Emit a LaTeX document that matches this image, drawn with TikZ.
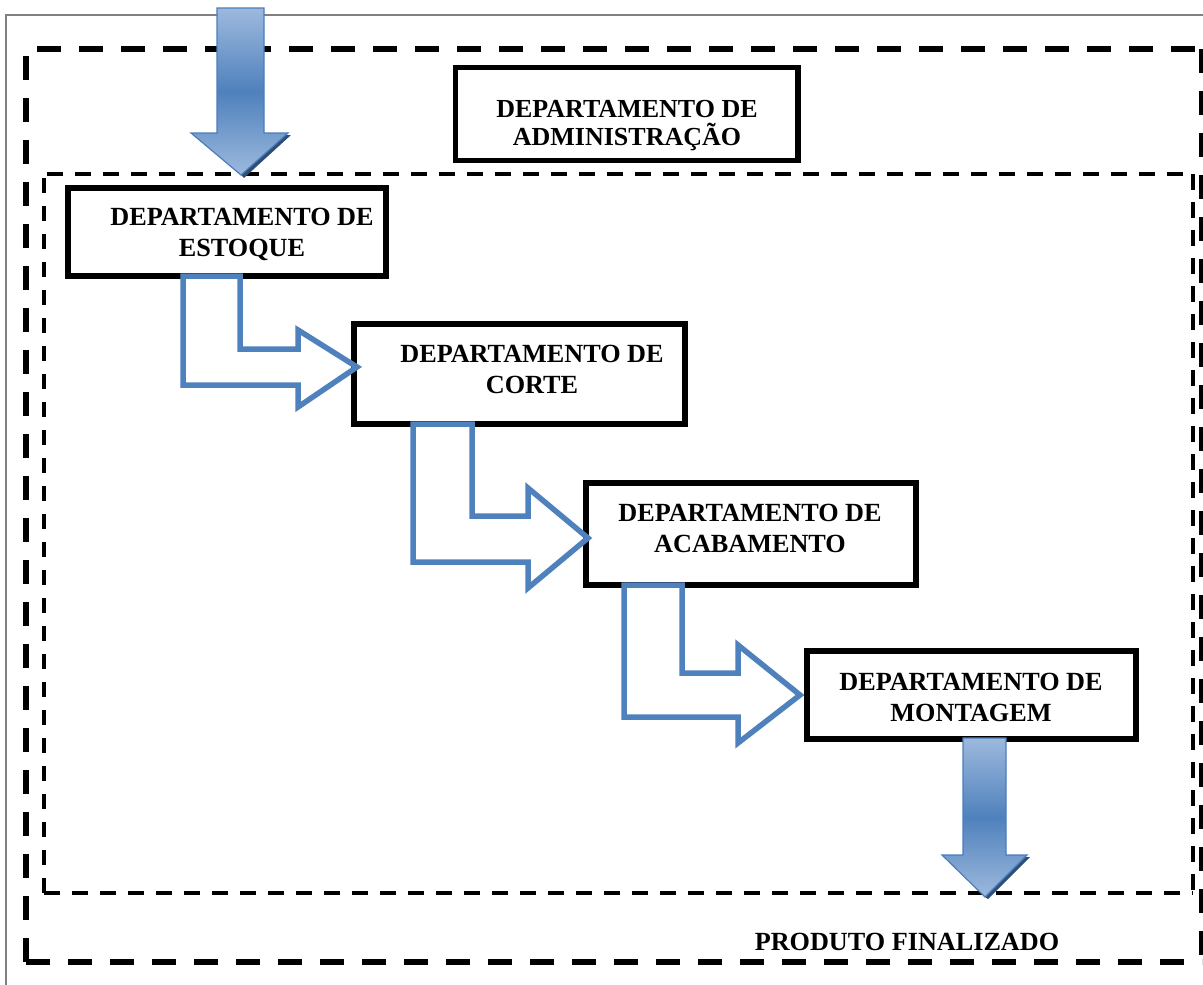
\documentclass[tikz,border=0pt]{standalone}
\usepackage{fontspec}
\setmainfont{Liberation Serif}
\definecolor{acc}{HTML}{4F81BD}
\definecolor{accL}{HTML}{9DB9DD}
\definecolor{accB}{HTML}{4A7EBB}
\definecolor{accS}{HTML}{2D4E77}
\definecolor{framegray}{HTML}{808080}
\tikzset{
  deptbox/.style={draw=black, line width=5.5pt, inner sep=0pt},
  depttext/.style={font=\bfseries\fontsize{26.2}{31}\selectfont, align=center, anchor=base, inner sep=0pt},
  outerdash/.style={draw=black, line width=5.5pt, dash pattern=on 24pt off 18pt},
  innerdash/.style={draw=black, line width=3.5pt, dash pattern=on 15.5pt off 12.5pt},
  bentarrow/.style={draw=acc, line width=5.5pt, line join=miter},
  bigarrow/.style={draw=accB, line width=1.2pt, top color=accL, bottom color=accL, middle color=acc},
  arrowshadow/.style={fill=accS, draw=none},
}
\begin{document}
\begin{tikzpicture}[x=1pt,y=-1pt]
\useasboundingbox (0,0) rectangle (1203,985);
% thin page frame
\draw[framegray, line width=1.3pt] (6,985) -- (6,15) -- (1203,15);
% outer dashed frame
\draw[outerdash] (26,962) -- (26,49);
\draw[outerdash, dash phase=31pt] (26,49) -- (1202,49);
\draw[outerdash] (1202,49) -- (1202,962);
\draw[outerdash] (26,962) -- (1202,962);
% inner dashed frame
\draw[innerdash] (44,893) -- (44,174);
\draw[innerdash, dash phase=25pt] (44,174) -- (1193,174);
\draw[innerdash] (1193,174) -- (1193,893);
\draw[innerdash] (44,893) -- (1193,893);

% boxes
\node[deptbox, minimum width=342.5pt, minimum height=93pt] (admin) at (626.75,114) {};
\node[deptbox, minimum width=318pt, minimum height=88pt] (estoque) at (227,232) {};
\node[deptbox, minimum width=331pt, minimum height=100pt] (corte) at (519.5,374) {};
\node[deptbox, minimum width=330pt, minimum height=102pt] (acab) at (751,534) {};
\node[deptbox, minimum width=329pt, minimum height=88pt] (mont) at (971.5,695) {};

% texts (anchor = baseline of last line)
\node[depttext, font=\bfseries\fontsize{26}{28}\selectfont] (admint) at (627,145) {DEPARTAMENTO DE\\ADMINISTRAÇÃO};
\node[depttext] (estoquet) at (242,256) {DEPARTAMENTO DE\\ESTOQUE};
\node[depttext] (cortet) at (532,393) {DEPARTAMENTO DE\\CORTE};
\node[depttext] (acabt) at (750,552) {DEPARTAMENTO DE\\ACABAMENTO};
\node[depttext] (montt) at (971,721) {DEPARTAMENTO DE\\MONTAGEM};
\node[depttext] (prod) at (907,950) {PRODUTO FINALIZADO};

% bent arrows
\draw[bentarrow] (183,276) -- (240,276) -- (240,349) -- (298,349) -- (298,330) -- (357,367) -- (298,407) -- (298,385) -- (183,385) -- cycle;
\draw[bentarrow] (413,424) -- (472,424) -- (472,516) -- (528,516) -- (528,488) -- (588,538) -- (528,588) -- (528,562) -- (413,562) -- cycle;
\draw[bentarrow] (624,585) -- (682,585) -- (682,673) -- (738,673) -- (738,645) -- (800,695) -- (738,743) -- (738,717) -- (624,717) -- cycle;

% top input arrow
\fill[arrowshadow] (267,135) -- (291,135) -- (244,178) -- (241,175) -- cycle;
\path[bigarrow] (217,8) -- (264,8) -- (264,133) -- (288,133) -- (241,175) -- (191,133) -- (217,133) -- cycle;
% bottom output arrow
\fill[arrowshadow] (1009,857) -- (1030,857) -- (988,899) -- (985,897) -- cycle;
\path[bigarrow] (963,738) -- (1006,738) -- (1006,855) -- (1027,855) -- (985,897) -- (942,855) -- (963,855) -- cycle;
\end{tikzpicture}
\end{document}
